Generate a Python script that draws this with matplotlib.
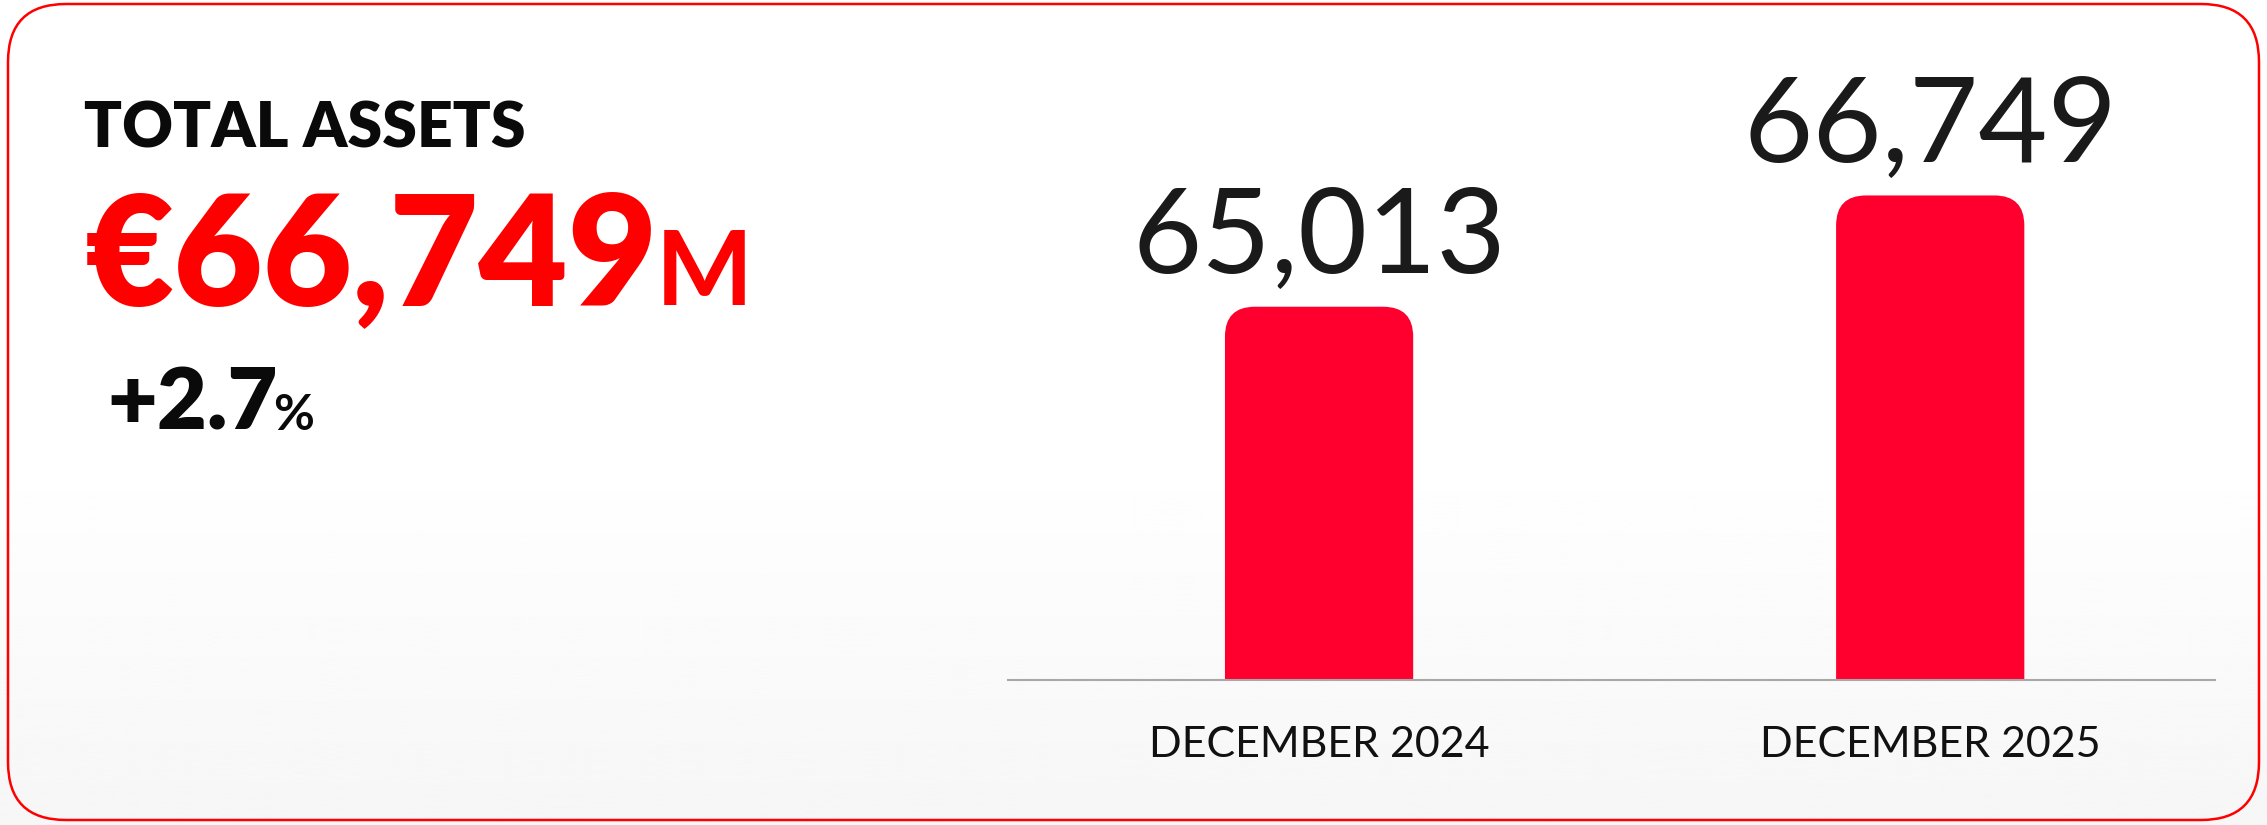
import numpy as np
import matplotlib.pyplot as plt
from matplotlib.patches import FancyBboxPatch, PathPatch
from matplotlib.path import Path
from matplotlib.transforms import IdentityTransform

W, H, DPI = 2267, 825, 100

# Data
periods = ["DECEMBER 2024", "DECEMBER 2025"]
total_assets = [65013, 66749]   # € millions

FONT = "Lato"
RED = "#ff0000"
BAR_RED = "#ff002e"

latest = total_assets[-1]
growth = (total_assets[-1] / total_assets[0] - 1) * 100

fig = plt.figure(figsize=(W / DPI, H / DPI), dpi=DPI)

# Background card (pixel coordinates, y downwards)
bg = fig.add_axes([0, 0, 1, 1], zorder=0)
bg.set_xlim(0, W)
bg.set_ylim(H, 0)
bg.axis("off")
rows = np.linspace(0, H, 300)
shade = 1 - 0.035 * np.clip((rows - 450) / (H - 450), 0, 1)
bg.imshow(shade[:, None], cmap="gray", vmin=0, vmax=1, extent=(0, W, H, 0), aspect="auto")
bg.add_patch(FancyBboxPatch((8, 4), W - 16, H - 9, boxstyle="round,pad=0,rounding_size=58",
                            fc="none", ec=RED, lw=1.8))

# Bar chart
ax = fig.add_axes([1008 / W, (H - 680) / H, (2215 - 1008) / W, (680 - 40) / H], zorder=1)
ax.patch.set_alpha(0)
ax.set_xlim(-0.509, 1.466)
ax.set_ylim(59190, 69174)

x = np.arange(len(periods))
bars = ax.bar(x, total_assets, width=0.308, color=BAR_RED)

# swap the plain rectangles for ones with rounded top corners
r = 30
for bar in bars:
    bar.set_visible(False)
    x0, y0 = bar.get_xy()
    (px0, py0), (px1, py1) = ax.transData.transform([(x0, y0), (x0 + bar.get_width(), y0 + bar.get_height())])
    verts = [(px0, py0), (px0, py1 - r), (px0, py1), (px0 + r, py1), (px1 - r, py1),
             (px1, py1), (px1, py1 - r), (px1, py0), (px0, py0)]
    codes = [Path.MOVETO, Path.LINETO, Path.CURVE3, Path.CURVE3, Path.LINETO,
             Path.CURVE3, Path.CURVE3, Path.LINETO, Path.CLOSEPOLY]
    p = PathPatch(Path(verts, codes), transform=IdentityTransform(), fc=BAR_RED, ec="none", zorder=2)
    p.set_clip_box(ax.bbox)
    ax.add_artist(p)

for xi, v in zip(x, total_assets):
    ax.annotate(f"{v:,}", (xi, v), xytext=(0, 34), textcoords="offset pixels",
                ha="center", va="baseline", fontsize=86, family=FONT, weight="normal", color="#1a1a1a")

for s in ["top", "left", "right"]:
    ax.spines[s].set_visible(False)
ax.spines["bottom"].set_color("#a8a8a8")
ax.spines["bottom"].set_linewidth(1.5)
ax.spines["bottom"].set_zorder(3)
ax.set_yticks([])
ax.set_xticks(x)
ax.set_xticklabels(periods, fontsize=31, family=FONT, color="#111111")
ax.tick_params(axis="x", length=0, pad=33)

# Headline text on the left
bg.text(84, 147, "TOTAL ASSETS", fontsize=45, family=FONT, weight="heavy", color="#0a0a0a",
        ha="left", va="baseline")
big = bg.text(85, 305, f"€{latest:,}", fontsize=111, family=FONT, weight="heavy", color=RED,
              ha="left", va="baseline")
pct = bg.text(107, 430, f"+{growth:.1f}", fontsize=62, family=FONT, weight="heavy", color="#0a0a0a",
              ha="left", va="baseline")

renderer = fig.canvas.get_renderer()
bb = big.get_window_extent(renderer)
bg.text(bb.x1 - 2, 305, "M", fontsize=74, family=FONT, weight="bold", color=RED,
        ha="left", va="baseline")
bb = pct.get_window_extent(renderer)
bg.text(bb.x1 - 4, 430, "%", fontsize=36, family=FONT, weight="bold", color="#0a0a0a",
        ha="left", va="baseline")

fig.savefig("out.png", dpi=DPI)
